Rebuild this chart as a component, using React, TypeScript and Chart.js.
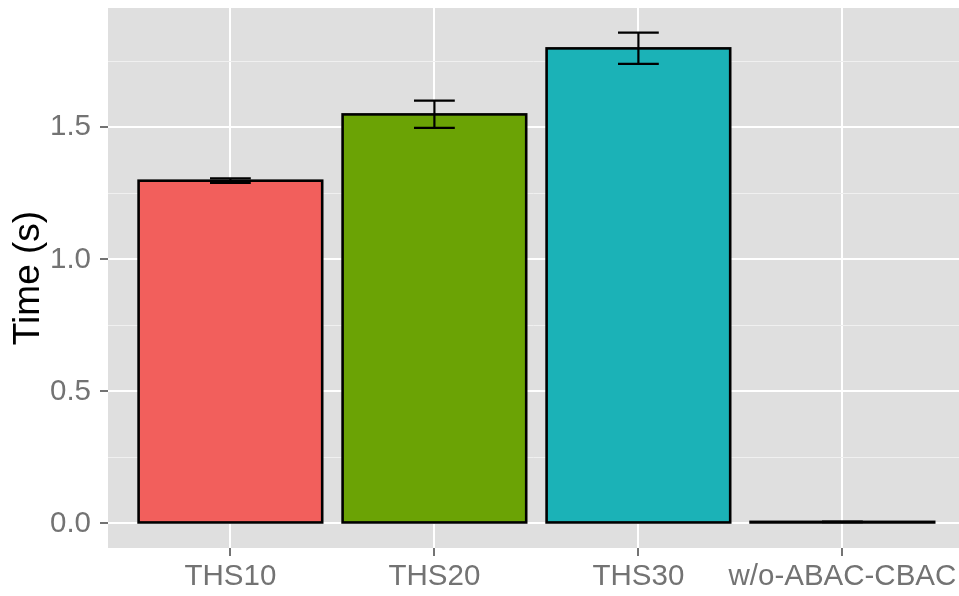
import React, { useEffect, useRef } from "react";
import { Chart, registerables } from "chart.js";

Chart.register(...registerables);

const categories = ["THS10", "THS20", "THS30", "w/o-ABAC-CBAC"];
const times = [1.298, 1.549, 1.799, 0.006];
const errLower = [1.290, 1.498, 1.740, 0.005];
const errUpper = [1.307, 1.601, 1.859, 0.007];
const barColors = ["#F25F5C", "#6BA305", "#1BB2B7", "#C77CFF"];
const yMajorTicks = [0, 0.5, 1.0, 1.5];
const yMinorTicks = [0.25, 0.75, 1.25, 1.75];

const FONT = "'Liberation Sans', Arial, Helvetica, sans-serif";
const PANEL_BG = "#DFDFDF";
const AXIS_GREY = "#737373";

const isMajor = (v: number) => yMajorTicks.some((m) => Math.abs(m - v) < 1e-9);

const panelPlugin = {
  id: "panelBg",
  beforeDraw(chart: any) {
    const { ctx, chartArea } = chart;
    ctx.save();
    ctx.fillStyle = PANEL_BG;
    ctx.fillRect(chartArea.left, chartArea.top, chartArea.right - chartArea.left, chartArea.bottom - chartArea.top);
    ctx.restore();
  },
};

const outlineErrPlugin = {
  id: "outlineErr",
  afterDatasetsDraw(chart: any) {
    const { ctx } = chart;
    const meta = chart.getDatasetMeta(0);
    const xs = chart.scales.x;
    const ys = chart.scales.y;
    ctx.save();
    ctx.strokeStyle = "#000000";
    ctx.lineWidth = 2.6;
    meta.data.forEach((el: any) => {
      const p = el.getProps(["x", "y", "base", "width"], true);
      const top = Math.min(p.y, p.base);
      const h = Math.abs(p.base - p.y);
      ctx.strokeRect(p.x - p.width / 2, top, p.width, h);
    });
    ctx.lineWidth = 2.2;
    categories.forEach((_, i) => {
      const cx = xs.getPixelForValue(i);
      const x0 = xs.getPixelForValue(i - 0.1);
      const x1 = xs.getPixelForValue(i + 0.1);
      const yl = ys.getPixelForValue(errLower[i]);
      const yu = ys.getPixelForValue(errUpper[i]);
      ctx.beginPath();
      ctx.moveTo(cx, yl);
      ctx.lineTo(cx, yu);
      ctx.moveTo(x0, yl);
      ctx.lineTo(x1, yl);
      ctx.moveTo(x0, yu);
      ctx.lineTo(x1, yu);
      ctx.stroke();
    });
    ctx.restore();
  },
};

export default function App() {
  const ref = useRef<HTMLCanvasElement | null>(null);

  useEffect(() => {
    if (!ref.current) return;
    const hi = Math.max(...errUpper);
    const lo = 0;
    const pad = (hi - lo) * 0.05;
    const chart = new Chart(ref.current, {
      type: "bar",
      data: {
        datasets: [
          {
            data: times.map((v, i) => ({ x: i, y: v })),
            backgroundColor: barColors,
            borderWidth: 0,
            barPercentage: 0.9,
            categoryPercentage: 1.0,
          },
        ],
      },
      options: {
        animation: false,
        responsive: false,
        layout: { padding: { top: 8, right: 0, left: 0, bottom: 0 } },
        plugins: { legend: { display: false }, tooltip: { enabled: false } },
        scales: {
          x: {
            type: "linear",
            offset: false,
            min: -0.6,
            max: 3.5716,
            afterBuildTicks: (axis: any) => {
              axis.ticks = categories.map((_, i) => ({ value: i }));
            },
            afterFit: (scale: any) => {
              scale.height = 48;
              scale.paddingLeft = 0;
              scale.paddingRight = 0;
            },
            border: { display: false },
            grid: {
              offset: false,
              color: "#FFFFFF",
              lineWidth: 2,
              tickLength: 8,
              tickColor: AXIS_GREY,
              tickWidth: 2,
            },
            ticks: {
              autoSkip: false,
              maxRotation: 0,
              minRotation: 0,
              padding: 3,
              color: AXIS_GREY,
              font: { family: FONT, size: 29.5 },
              callback: (v: any) => categories[Math.round(Number(v))] ?? "",
            },
          },
          y: {
            type: "linear",
            min: lo - pad,
            max: hi + pad,
            afterBuildTicks: (axis: any) => {
              axis.ticks = [...yMajorTicks, ...yMinorTicks]
                .sort((a, b) => a - b)
                .map((v) => ({ value: v }));
            },
            afterFit: (scale: any) => {
              scale.width = 108;
              scale.paddingTop = 0;
              scale.paddingBottom = 0;
            },
            border: { display: false },
            grid: {
              color: (c: any) => (isMajor(c.tick?.value) ? "#FFFFFF" : "#F0F0F0"),
              lineWidth: (c: any) => (isMajor(c.tick?.value) ? 2 : 1),
              tickLength: 8,
              tickColor: (c: any) => (isMajor(c.tick?.value) ? AXIS_GREY : "rgba(0,0,0,0)"),
              tickWidth: 2,
            },
            ticks: {
              autoSkip: false,
              padding: 9,
              color: AXIS_GREY,
              font: { family: FONT, size: 29.5 },
              callback: (v: any) => (isMajor(Number(v)) ? Number(v).toFixed(1) : ""),
            },
            title: {
              display: true,
              text: "Time (s)",
              color: "#000000",
              font: { family: FONT, size: 37 },
              padding: { top: 7, bottom: 0 },
            },
          },
        },
      },
      plugins: [panelPlugin, outlineErrPlugin],
    } as any);
    return () => chart.destroy();
  }, []);

  return (
    <div style={{ position: "fixed", left: 0, top: 0, width: 959, height: 596, background: "#FFFFFF" }}>
      <canvas ref={ref} width={959} height={596} style={{ width: 959, height: 596, display: "block" }} />
    </div>
  );
}
